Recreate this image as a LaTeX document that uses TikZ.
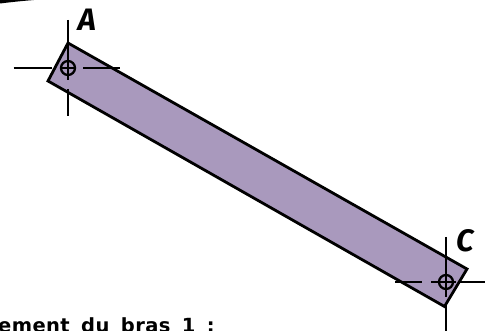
\documentclass[tikz,border=0pt]{standalone}
\usepackage{fontspec}
\setmainfont{Fira Sans}
\newfontfamily\legendfont[LetterSpace=2,WordSpace=1.6]{DejaVu Sans}
\definecolor{armfill}{HTML}{A999BD}
\tikzset{
  arm/.style={draw=black,fill=armfill,line width=2.8pt,line join=miter},
  axisline/.style={draw=black,line width=1.5pt},
  pivot/.style={draw=black,line width=2.3pt},
  lettre/.style={font=\bfseries\itshape\fontsize{31}{31}\selectfont,inner sep=0pt,text=black},
  legende/.style={font=\legendfont\bfseries\fontsize{19.5}{19.5}\selectfont,inner sep=0pt,anchor=base west,text=black}
}
\begin{document}
\begin{tikzpicture}[x=1pt,y=-1pt]
\useasboundingbox (0,0) rectangle (485,331);
\begin{scope}
\clip (0,0) rectangle (485,331);
\fill[black] (0,3.5) .. controls (12,2) and (22,1) .. (34,0) -- (0,0) -- cycle;
\draw[arm] (68,43) -- (467,269) -- (444.5,306.5) -- (48,81) -- cycle;
\draw[axisline] (13.5,68) -- (52,68);
\draw[axisline] (61,68) -- (76,68);
\draw[axisline] (83,68) -- (120,68);
\draw[axisline] (68,20) -- (68,80);
\draw[axisline] (68,89) -- (68,116);
\draw[pivot] (68,68) circle (7);
\draw[axisline] (395,282) -- (422,282);
\draw[axisline] (431,282) -- (456,282);
\draw[axisline] (460,282) -- (485,282);
\draw[axisline] (446,237) -- (446,297);
\draw[axisline] (446,305) -- (446,331);
\draw[pivot] (446,282) circle (7);
\node[lettre] (A) at (87,20) {A};
\node[lettre] (C) at (465,241) {C};
\node[legende] (t) at (-2,333) {ement du bras 1 :};
\end{scope}
\end{tikzpicture}
\end{document}
